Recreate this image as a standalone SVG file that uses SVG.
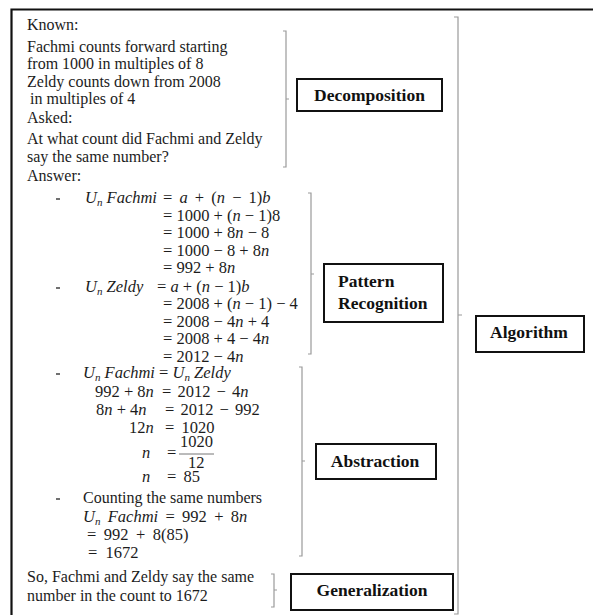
<svg xmlns="http://www.w3.org/2000/svg" width="593" height="615" viewBox="0 0 593 615">
<style>
.t{font-family:"Liberation Serif","Times New Roman",serif;font-size:16px;fill:#1c1c1c}
.m{font-family:"Liberation Serif","Times New Roman",serif;font-size:16.5px;fill:#1c1c1c}
.i{font-style:italic}
.s{font-style:italic;font-size:11px}
.b{font-family:"Liberation Serif","Times New Roman",serif;font-size:17.5px;font-weight:bold;fill:#111}
.box{fill:#fff;stroke:#111;stroke-width:2}
.br{fill:none;stroke:#9a9a9a;stroke-width:1.2}
.frame{fill:none;stroke:#111;stroke-width:2.2}
.dash{stroke:#222;stroke-width:1.3}
</style>
<rect width="593" height="615" fill="#fff"/>
<path class="frame" d="M11.5,615 V9.5 H593"/>

<g id="known-text">
<text class="t" x="27" y="30">Known:</text>
<text class="t" x="27" y="52">Fachmi counts forward starting</text>
<text class="t" x="27" y="69">from 1000 in multiples of 8</text>
<text class="t" x="27" y="87">Zeldy counts down from 2008</text>
<text class="t" x="30" y="104">in multiples of 4</text>
<text class="t" x="27" y="123">Asked:</text>
<text class="t" x="27" y="144">At what count did Fachmi and Zeldy</text>
<text class="t" x="27" y="162">say the same number?</text>
<text class="t" x="27" y="181">Answer:</text>
</g>

<g id="pattern-text">
<line class="dash" x1="56" y1="199" x2="60" y2="199"/>
<text class="m" x="85" y="203"><tspan class="i">U</tspan><tspan class="s" dy="3">n</tspan><tspan class="i" dy="-3"> Fachmi</tspan></text>
<text class="m" x="163" y="203" word-spacing="3">= <tspan class="i">a</tspan> + (<tspan class="i">n</tspan> − 1)<tspan class="i">b</tspan></text>
<text class="m" x="163" y="221">= 1000 + (<tspan class="i">n</tspan> − 1)8</text>
<text class="m" x="163" y="238">= 1000 + 8<tspan class="i">n</tspan> − 8</text>
<text class="m" x="163" y="256">= 1000 − 8 + 8<tspan class="i">n</tspan></text>
<text class="m" x="163" y="273">= 992 + 8<tspan class="i">n</tspan></text>
<line class="dash" x1="56" y1="288" x2="60" y2="288"/>
<text class="m" x="85" y="292"><tspan class="i">U</tspan><tspan class="s" dy="3">n</tspan><tspan class="i" dy="-3"> Zeldy</tspan></text>
<text class="m" x="157" y="292">= <tspan class="i">a</tspan> + (<tspan class="i">n</tspan> − 1)<tspan class="i">b</tspan></text>
<text class="m" x="163" y="309">= 2008 + (<tspan class="i">n</tspan> − 1) − 4</text>
<text class="m" x="163" y="327">= 2008 − 4<tspan class="i">n</tspan> + 4</text>
<text class="m" x="163" y="344">= 2008 + 4 − 4<tspan class="i">n</tspan></text>
<text class="m" x="163" y="362">= 2012 − 4<tspan class="i">n</tspan></text>
</g>

<g id="abstraction-text">
<line class="dash" x1="56" y1="374" x2="60" y2="374"/>
<text class="m" x="83" y="378"><tspan class="i">U</tspan><tspan class="s" dy="3">n</tspan><tspan class="i" dy="-3"> Fachmi</tspan> = <tspan class="i">U</tspan><tspan class="s" dy="3">n</tspan><tspan class="i" dy="-3"> Zeldy</tspan></text>
<text class="m" x="95" y="397">992 + 8<tspan class="i">n</tspan></text>
<text class="m" x="162" y="397" word-spacing="2">= 2012 − 4<tspan class="i">n</tspan></text>
<text class="m" x="96" y="415">8<tspan class="i">n</tspan> + 4<tspan class="i">n</tspan></text>
<text class="m" x="165" y="415" word-spacing="2">= 2012 − 992</text>
<text class="m" x="129" y="433">12<tspan class="i">n</tspan></text>
<text class="m" x="165" y="433" word-spacing="3">= 1020</text>
<text class="m i" x="142" y="458">n</text>
<text class="m" x="167" y="458">=</text>
<text class="m" x="180" y="447">1020</text>
<line x1="179" y1="454" x2="214" y2="454" stroke="#777" stroke-width="1"/>
<text class="m" x="188" y="468">12</text>
<text class="m i" x="142" y="482">n</text>
<text class="m" x="167" y="482" word-spacing="3">= 85</text>
<line class="dash" x1="56" y1="499" x2="60" y2="499"/>
<text class="t" x="83" y="503">Counting the same numbers</text>
<text class="m" x="83" y="522" word-spacing="3.2"><tspan class="i">U</tspan><tspan class="s" dy="3">n</tspan><tspan class="i" dy="-3"> Fachmi</tspan> = 992 + 8<tspan class="i">n</tspan></text>
<text class="m" x="87" y="540" word-spacing="3.3">= 992 + 8(85)</text>
<text class="m" x="88" y="558" word-spacing="4">= 1672</text>
</g>

<g id="generalization-text">
<text class="t" x="27" y="582">So, Fachmi and Zeldy say the same</text>
<text class="t" x="27" y="601">number in the count to 1672</text>
</g>

<g id="connectors">
<path class="br" d="M283,31 H286 V167 H283 M286,99 H289"/>
<path class="br" d="M308,193 H311 V354 H308 M311,274 H314"/>
<path class="br" d="M299,367 H302 V556 H299 M302,461 H305"/>
<path class="br" d="M271,574 H274 V607 H271 M274,590 H277"/>
<path class="br" d="M454,17 H458 V614 H454 M458,315 H462"/>
</g>

<g id="decomposition">
<rect class="box" x="297" y="79" width="145" height="32"/>
<text class="b" x="369.5" y="101" text-anchor="middle">Decomposition</text>
</g>
<g id="pattern-recognition">
<rect class="box" x="324" y="264" width="119" height="58"/>
<text class="b" x="338" y="287">Pattern</text>
<text class="b" x="338" y="309">Recognition</text>
</g>
<g id="abstraction">
<rect class="box" x="316" y="444" width="120" height="35"/>
<text class="b" x="375" y="467" text-anchor="middle">Abstraction</text>
</g>
<g id="generalization">
<rect class="box" x="291" y="574" width="162" height="36"/>
<text class="b" x="372" y="596" text-anchor="middle">Generalization</text>
</g>
<g id="algorithm">
<rect class="box" x="476" y="316" width="108" height="36"/>
<text class="b" x="529" y="338" text-anchor="middle">Algorithm</text>
</g>
</svg>
